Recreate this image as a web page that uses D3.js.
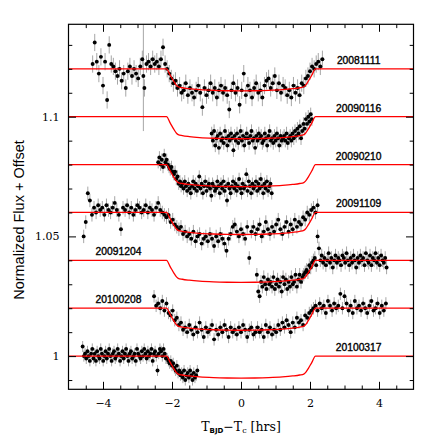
<!DOCTYPE html>
<html>
<head>
<meta charset="utf-8">
<script src="https://cdn.jsdelivr.net/npm/d3@7"></script>
<style>
  body { margin: 0; background: #fff; }
  svg { display: block; }
</style>
</head>
<body>
<div id="chart"></div>
<script>
const WIDTH = 436;
const HEIGHT = 436;
const MARGINS = {left: 68.5, right: 22.5, top: 24.3, bottom: 46.7};

// nights, offsets and cadence of each light curve
const nights = ["20081111", "20090116", "20090210", "20091109", "20091204", "20100208", "20100317"];
const offsets = [0.12, 0.10, 0.08, 0.06, 0.04, 0.02, 0.00];
const startTimes = [-4.30, -0.85, -2.40, -4.56, 0.46, -2.52, -4.59];
const cadence = [0.06, 0.035, 0.035, 0.06, 0.04, 0.06, 0.035];
const errSize = [3.6, 2.8, 2.6, 2.8, 2.8, 2.6, 2.3];   // ppt

// relative flux of each point, ppt
const flux20081111 = [2, 11, 3, -2, 5, -7, 3, -13, 10, 2,
  1, -1, -3, 0, -5, -2, -8, -1, 1, -3,
  0, -2, -4, 1, 4, -8, 2, 3, 1, 4,
  2, 3, 1, 4, 9, 2, 0, -2, -4, -6,
  -5, -8, -7, -10, -9, -6, -11, -8, -10, -12,
  -9, -7, -10, -16, -8, -11, -9, -6, -10, -8,
  -12, -9, -7, -10, -8, -11, -17, -9, -6, -10,
  -8, -15, -9, -2, -11, -7, -9, -12, -8, -6,
  -10, -9, -12, -7, -5, -4, -8, -6, -3, -9,
  -6, -10, -7, -8, -11, -9, -12, -7, -10, -8,
  -11, -6, -7, -4, -3, -1, 1, 0, 2, 3, 1, 4];
const flux20090116 = [-7, -10, -6, -12, -9, -8, -13, -7, -10, -9,
  -11, -6, -9, -12, -8, -10, -7, -9, -14, -8,
  -10, -7, -11, -9, -6, -10, -8, -12, -9, -7,
  -9, -11, -8, -6, -10, -9, -13, -8, -10, -7,
  -9, -8, -11, -10, -7, -9, -12, -8, -6, -10,
  -9, -11, -8, -10, -7, -9, -12, -8, -10, -9,
  -8, -10, -7, -11, -9, -8, -10, -7, -9, -6,
  -8, -5, -7, -4, -9, -6, -3, -5, -1, -3,
  0, -2, 1, -1];
const flux20090210 = [1, 3, 0, 2, -1, 4, 1, 2, 0, -1,
  -2, -1, -3, -4, -3, -6, -5, -8, -7, -9,
  -8, -10, -7, -9, -11, -8, -10, -12, -9, -7,
  -10, -8, -11, -9, -5, -10, -8, -12, -9, -7,
  -11, -9, -8, -10, -13, -8, -9, -11, -10, -7,
  -9, -12, -8, -10, -7, -11, -9, -15, -8, -10,
  -12, -9, -7, -10, -8, -11, -9, -6, -10, -12,
  -8, -10, -9, -4, -11, -7, -9, -12, -8, -10,
  -9, -7, -11, -8, -10, -6, -9, -12, -8, -10,
  -7, -11, -9, -8, -12];
const flux20091109 = [-10, -4, 8, 5, -1, 2, 0, 3, 1, 2,
  -1, 3, 1, 0, 2, 4, 1, -1, -7, 2,
  1, 3, 0, 2, -1, 1, 3, 2, 0, 1,
  3, 0, 2, 1, -1, 2, 4, 1, 0, -1,
  -2, -1, -4, -3, -5, -6, -7, -6, -9, -8,
  -10, -9, -11, -8, -12, -10, -9, -13, -11, -10,
  -12, -9, -11, -14, -10, -12, -9, -11, -13, -16,
  -11, -9, -6, -5, -8, -10, -7, -9, -11, -6,
  -19, -8, -6, -9, -7, -5, -10, -8, -4, -7,
  -9, -6, -8, -5, -3, -7, -9, -6, -4, -8,
  -5, -7, -3, -6, -4, -5, -2, -3, 0, -1,
  1, 2, 0, 3];
const flux20091204 = [-6, -13, -15, -9, -11, -7, -10, -12, -8, -10,
  -9, -11, -7, -12, -10, -8, -11, -9, -13, -7,
  -10, -8, -12, -9, -11, -7, -10, -9, -6, -11,
  -8, -6, -9, -7, -6, -5, -4, -5, -2, -3,
  -1, 0, 1, -2, 10, 5, 0, 2, -1, 1,
  -2, 0, 3, -1, 1, -3, 0, 2, -1, 1,
  0, -2, 2, 1, -1, 3, 0, -2, 1, -1,
  2, 0, -3, 1, -1, 2, 0, 1, -2, 3,
  0, -1, 2, -2, 1, 0, 3, -1, 1, -2,
  2, 0, -1, 1, -3];
const flux20100208 = [5, 1, 2, 0, 3, -1, 2, -2, -3, -1,
  -5, -4, -7, -6, -9, -8, -10, -7, -9, -11,
  -8, -10, -6, -9, -12, -8, -10, -9, -7, -13,
  -9, -11, -8, -10, -7, -9, -12, -8, -10, -9,
  -11, -8, -10, -7, -9, -12, -9, -8, -11, -10,
  -8, -10, -9, -12, -7, -10, -8, -11, -9, -10,
  -7, -9, -6, -8, -5, -7, -10, -6, -8, -4,
  -6, -5, -7, -3, -4, -2, -1, 0, 1, -1,
  2, 0, 1, -2, 3, 1, -1, 2, 0, 1,
  6, 0, 5, 2, -1, 1, -2, 3, 0, 1,
  -1, 2, 0, -2, 1, 3, -1, 0, 2, -2,
  1, -1, 2];
const flux20100317 = [4, 0, 1, -1, 2, 0, -2, 1, 3, -1,
  1, -2, 2, 0, -1, 3, 1, -2, 0, 2,
  -1, 1, 3, 0, -2, 1, 2, -1, 0, 3,
  1, -2, 0, 2, -1, 1, 3, 0, -2, 1,
  2, -1, 0, 1, -2, 3, 1, 0, -1, 2,
  0, 3, 1, -1, 2, 0, 1, 3, -2, 1,
  2, 0, -6, 1, 3, 2, 0, 3, 1, -1,
  -1, -2, -3, -2, -4, -3, -5, -6, -4, -7,
  -6, -8, -7, -9, -6, -10, -8, -7, -9, -6,
  -8, -10, -7, -9, -8, -6];
const fluxes = [flux20081111, flux20090116, flux20090210, flux20091109,
                flux20091204, flux20100208, flux20100317];

// one point of 20081111 with a very large error bar: [time, flux ppt, error ppt]
const widePoint = [-2.83, -3, 23];

// transit model (same for every night)
const modelTime = [-5, -2.16, -2.05, -1.95, -1.87, -1.82, -1.7, -1.5, -1.2, -0.8, -0.4, 0,
                   0.4, 0.8, 1.2, 1.5, 1.7, 1.82, 1.87, 1.95, 2.05, 2.16, 5];
const modelFlux = [0, 0, -2.7, -5.2, -6.9, -7.5, -7.9, -8.3, -8.7, -9.0, -9.15, -9.2,
                   -9.15, -9.0, -8.7, -8.3, -7.9, -7.5, -6.9, -5.2, -2.7, 0, 0];

// axis ticks
const xMajorTicks = [-4, -2, 0, 2, 4];
const xMinorTicks = [-4.5, -3.5, -3, -2.5, -1.5, -1, -0.5, 0.5, 1, 1.5, 2.5, 3, 3.5, 4.5];
const yMajorTicks = [1, 1.05, 1.1];
const yMinorTicks = [0.99, 1.01, 1.02, 1.03, 1.04, 1.06, 1.07, 1.08, 1.09, 1.11, 1.12, 1.13];

const VIS_WIDTH = WIDTH - MARGINS.left - MARGINS.right;
const VIS_HEIGHT = HEIGHT - MARGINS.top - MARGINS.bottom;

const svg = d3.select("#chart")
  .append("svg")
    .attr("width", WIDTH)
    .attr("height", HEIGHT);

const FRAME = svg.append("g")
  .attr("transform", "translate(" + MARGINS.left + "," + MARGINS.top + ")");

const X_SCALE = d3.scaleLinear().domain([-5, 5]).range([0, VIS_WIDTH]);
const Y_SCALE = d3.scaleLinear().domain([0.98613, 1.1386]).range([VIS_HEIGHT, 0]);

FRAME.append("clipPath").attr("id", "clip")
  .append("rect").attr("width", VIS_WIDTH).attr("height", VIS_HEIGHT);

const plot = FRAME.append("g").attr("clip-path", "url(#clip)");

// build points for each night
const series = nights.map((name, k) => {
  const pts = fluxes[k].map((v, i) => ({
    t: startTimes[k] + i * cadence[k],
    f: 1 + offsets[k] + v / 1000,
    e: errSize[k] / 1000
  }));
  if (k === 0) {
    pts.push({t: widePoint[0], f: 1 + offsets[k] + widePoint[1] / 1000, e: widePoint[2] / 1000});
  }
  return pts;
});

const allPts = series.flat();

// error bars
plot.selectAll(".err")
  .data(allPts)
  .enter()
  .append("line")
    .attr("x1", d => X_SCALE(d.t))
    .attr("x2", d => X_SCALE(d.t))
    .attr("y1", d => Y_SCALE(d.f - d.e))
    .attr("y2", d => Y_SCALE(d.f + d.e))
    .attr("stroke", "#a6a6a6")
    .attr("stroke-width", 1);

// points
plot.selectAll(".pt")
  .data(allPts)
  .enter()
  .append("circle")
    .attr("cx", d => X_SCALE(d.t))
    .attr("cy", d => Y_SCALE(d.f))
    .attr("r", 1.95)
    .attr("fill", "#000");

// model curves
const modelLine = d3.line()
  .x(d => X_SCALE(d[0]))
  .y(d => Y_SCALE(d[1]))
  .curve(d3.curveMonotoneX);

offsets.forEach((off) => {
  plot.append("path")
    .datum(modelTime.map((t, i) => [t, 1 + off + modelFlux[i] / 1000]))
    .attr("d", modelLine)
    .attr("fill", "none")
    .attr("stroke", "#ff0000")
    .attr("stroke-width", 1.3);
});

// night labels
const leftLabels = ["20091204", "20100208"];
nights.forEach((name, k) => {
  const left = leftLabels.includes(name);
  FRAME.append("text")
    .attr("x", left ? X_SCALE(-3.55) : X_SCALE(3.41))
    .attr("y", Y_SCALE(1 + offsets[k]) - 5)
    .attr("text-anchor", "middle")
    .attr("font-family", "Liberation Sans, Arial, sans-serif")
    .attr("font-size", "10.3px")
    .attr("fill", "#000")
    .attr("stroke", "#000")
    .attr("stroke-width", 0.35)
    .text(name);
});

// axes: ticks inward on all four sides
function styleAxis(g) {
  g.select(".domain").remove();
  g.selectAll(".tick line").attr("stroke", "#000");
  g.selectAll("text")
    .attr("font-family", "DejaVu Serif, serif")
    .attr("font-size", "11px")
    .attr("fill", "#000");
}

FRAME.append("g")
  .attr("transform", "translate(0," + VIS_HEIGHT + ")")
  .call(d3.axisBottom(X_SCALE).tickValues(xMajorTicks).tickSize(-7.5).tickPadding(10))
  .call(styleAxis);
FRAME.append("g")
  .attr("transform", "translate(0," + VIS_HEIGHT + ")")
  .call(d3.axisBottom(X_SCALE).tickValues(xMinorTicks).tickSize(-3.8).tickFormat(""))
  .call(styleAxis);
FRAME.append("g")
  .call(d3.axisTop(X_SCALE).tickValues(xMajorTicks).tickSize(-7.5).tickFormat(""))
  .call(styleAxis);
FRAME.append("g")
  .call(d3.axisTop(X_SCALE).tickValues(xMinorTicks).tickSize(-3.8).tickFormat(""))
  .call(styleAxis);

FRAME.append("g")
  .call(d3.axisLeft(Y_SCALE).tickValues(yMajorTicks).tickSize(-7.5).tickPadding(9)
    .tickFormat(d3.format("")))
  .call(styleAxis);
FRAME.append("g")
  .call(d3.axisLeft(Y_SCALE).tickValues(yMinorTicks).tickSize(-3.8).tickFormat(""))
  .call(styleAxis);
FRAME.append("g")
  .attr("transform", "translate(" + VIS_WIDTH + ",0)")
  .call(d3.axisRight(Y_SCALE).tickValues(yMajorTicks).tickSize(-7.5).tickFormat(""))
  .call(styleAxis);
FRAME.append("g")
  .attr("transform", "translate(" + VIS_WIDTH + ",0)")
  .call(d3.axisRight(Y_SCALE).tickValues(yMinorTicks).tickSize(-3.8).tickFormat(""))
  .call(styleAxis);

// frame
FRAME.append("rect")
  .attr("width", VIS_WIDTH)
  .attr("height", VIS_HEIGHT)
  .attr("fill", "none")
  .attr("stroke", "#000")
  .attr("stroke-width", 1.2);

// axis titles
const xTitle = svg.append("text")
  .attr("x", MARGINS.left + X_SCALE(0))
  .attr("y", 431)
  .attr("text-anchor", "middle")
  .attr("font-family", "DejaVu Serif, serif")
  .attr("font-size", "12.5px")
  .attr("fill", "#000");
xTitle.append("tspan").text("T");
xTitle.append("tspan").attr("font-size", "7px").attr("font-weight", "bold")
  .attr("font-family", "DejaVu Sans, sans-serif").attr("dy", 2).text("BJD");
xTitle.append("tspan").attr("dy", -2).text("\u2212T");
xTitle.append("tspan").attr("font-size", "8px").attr("dy", 2).text("c");
xTitle.append("tspan").attr("dy", -2).text(" [hrs]");

svg.append("text")
  .attr("transform", "translate(24," + 220 + ") rotate(-90)")
  .attr("text-anchor", "middle")
  .attr("font-family", "Liberation Sans, Arial, sans-serif")
  .attr("font-size", "14.5px")
  .attr("fill", "#000")
  .text("Normalized Flux + Offset");
</script>
</body>
</html>
